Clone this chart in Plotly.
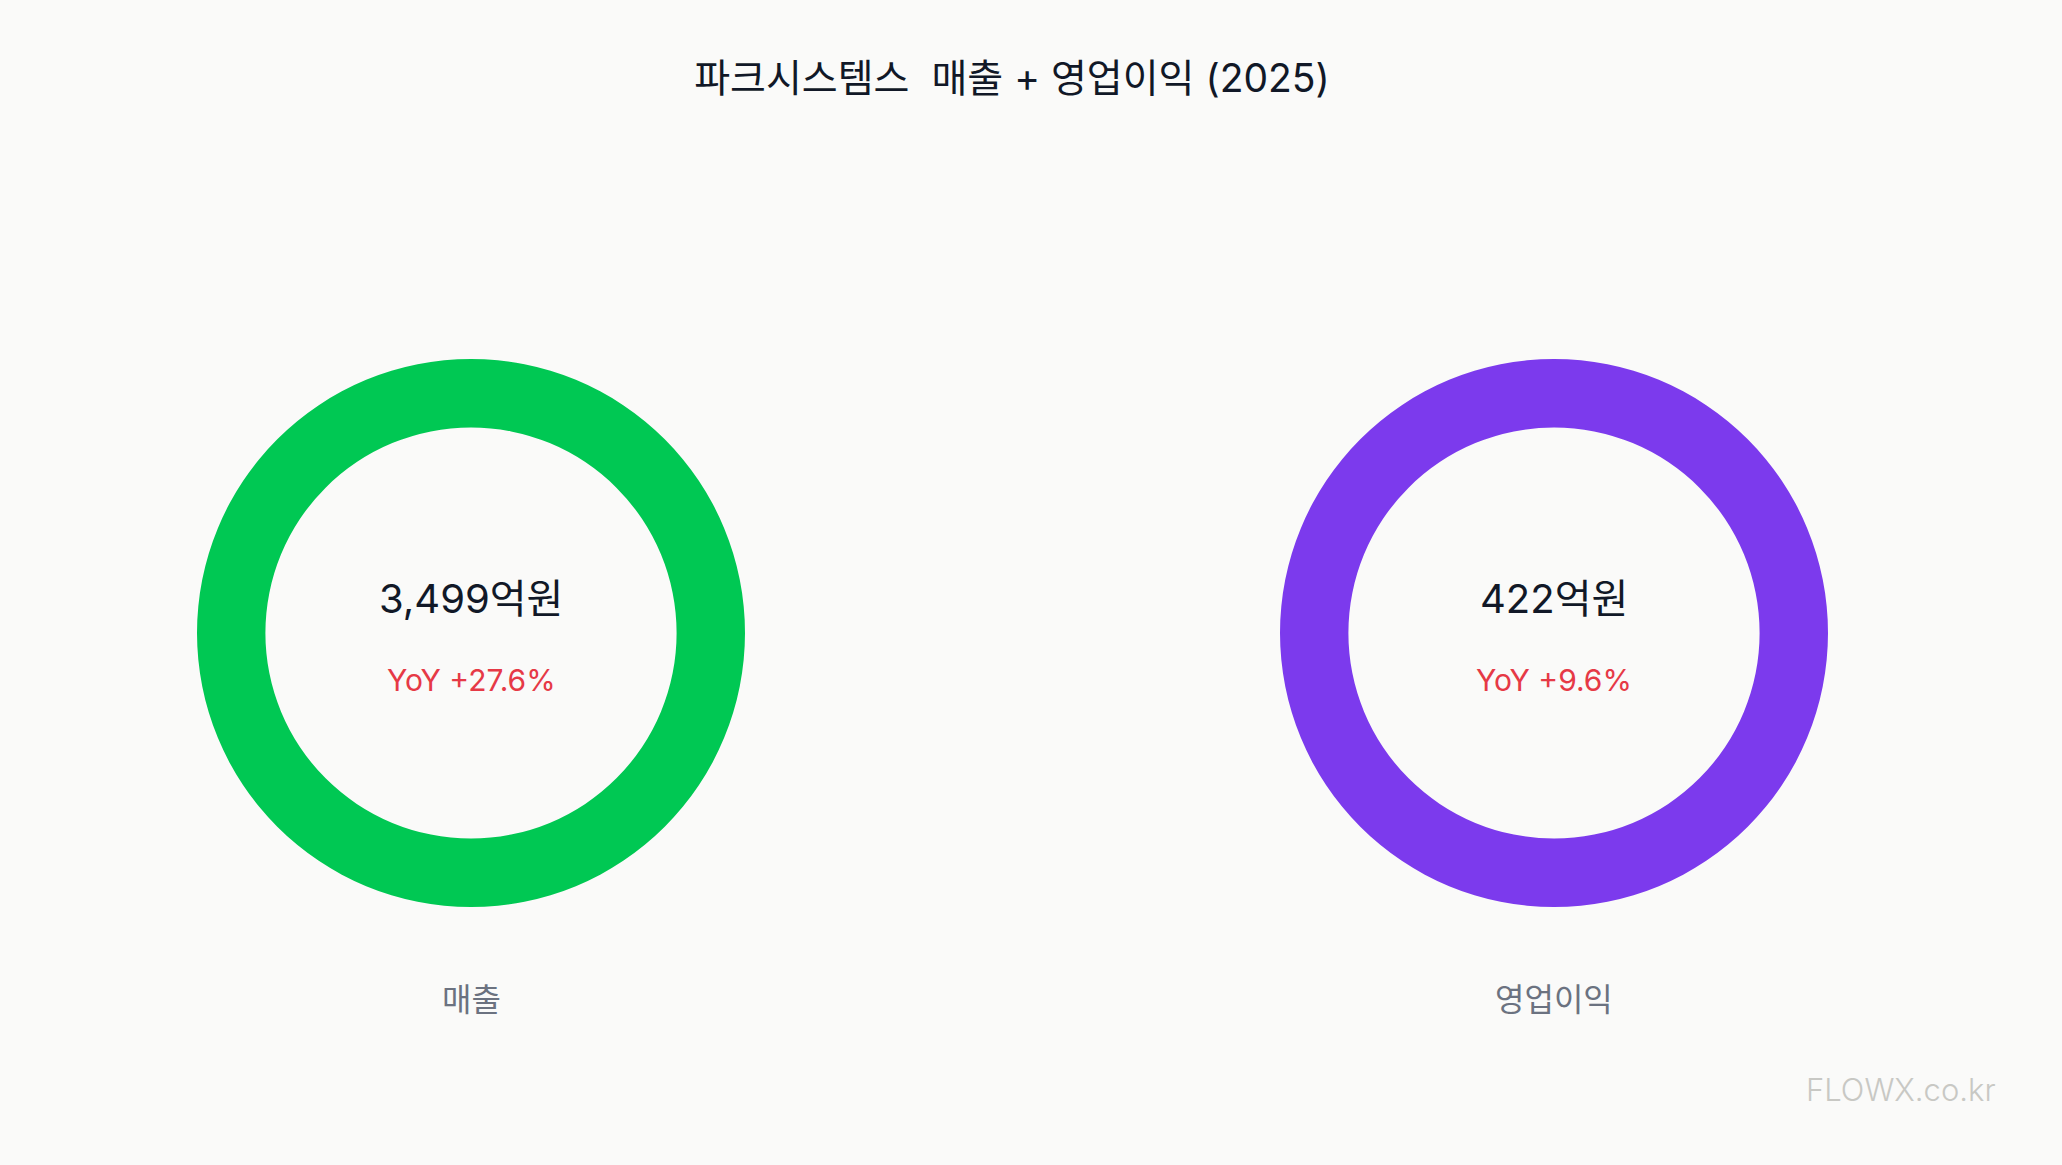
import plotly.graph_objects as go

# ---- data ----
title_text = "파크시스템스  매출 + 영업이익 (2025)"
categories = ["매출", "영업이익"]
values = [3499, 422]          # 억원
yoy = [27.6, 9.6]             # %
ring_colors = ["#00C853", "#7C3AED"]

W, H = 2062, 1165
BG = "#FAFAF9"
FONT = "Inter, Noto Sans CJK KR, sans-serif"

# ring geometry (pixels)
centers_x = [471, 1554]
center_y = 633
radius = 274

fig = go.Figure()
for i, (cat, val) in enumerate(zip(categories, values)):
    cx = centers_x[i]
    fig.add_trace(go.Pie(
        values=[val],
        labels=[cat],
        hole=0.75,
        sort=False,
        textinfo="none",
        hoverinfo="label+value",
        marker=dict(colors=[ring_colors[i]], line=dict(width=0)),
        showlegend=False,
        domain=dict(
            x=[(cx - radius) / W, (cx + radius) / W],
            y=[(H - center_y - radius) / H, (H - center_y + radius) / H],
        ),
    ))

    # centre value
    fig.add_annotation(
        x=cx / W, y=1 - 598 / H, xref="paper", yref="paper",
        text=f"{val:,}억원", showarrow=False,
        font=dict(family=FONT, size=40, color="#111827"),
        xanchor="center", yanchor="middle",
    )
    # YoY
    fig.add_annotation(
        x=cx / W, y=1 - 680 / H, xref="paper", yref="paper",
        text=f"YoY +{yoy[i]}%", showarrow=False,
        font=dict(family=FONT, size=30, color="#E63946"),
        xanchor="center", yanchor="middle",
    )
    # category label
    fig.add_annotation(
        x=cx / W, y=1 - 999 / H, xref="paper", yref="paper",
        text=cat, showarrow=False,
        font=dict(family=FONT, size=32, color="#6B7280"),
        xanchor="center", yanchor="middle",
    )

# watermark
fig.add_annotation(
    x=1901 / W, y=1 - 1089 / H, xref="paper", yref="paper",
    text="FLOWX.co.kr", showarrow=False,
    font=dict(family="Inter, sans-serif", size=31, color="#C8C8C4", weight=300),
    xanchor="center", yanchor="middle",
)

fig.update_layout(
    width=W, height=H,
    paper_bgcolor=BG, plot_bgcolor=BG,
    margin=dict(l=0, r=0, t=0, b=0),
    title=dict(
        text=title_text, x=1012 / W, xanchor="center",
        y=1 - 78 / H, yanchor="middle",
        font=dict(family=FONT, size=39, color="#111827"),
    ),
)

fig.write_html(
    "out.html",
    config={"displayModeBar": False},
    post_script="document.body.style.margin='0';document.body.style.background='#FAFAF9';document.body.style.overflow='hidden';",
)
